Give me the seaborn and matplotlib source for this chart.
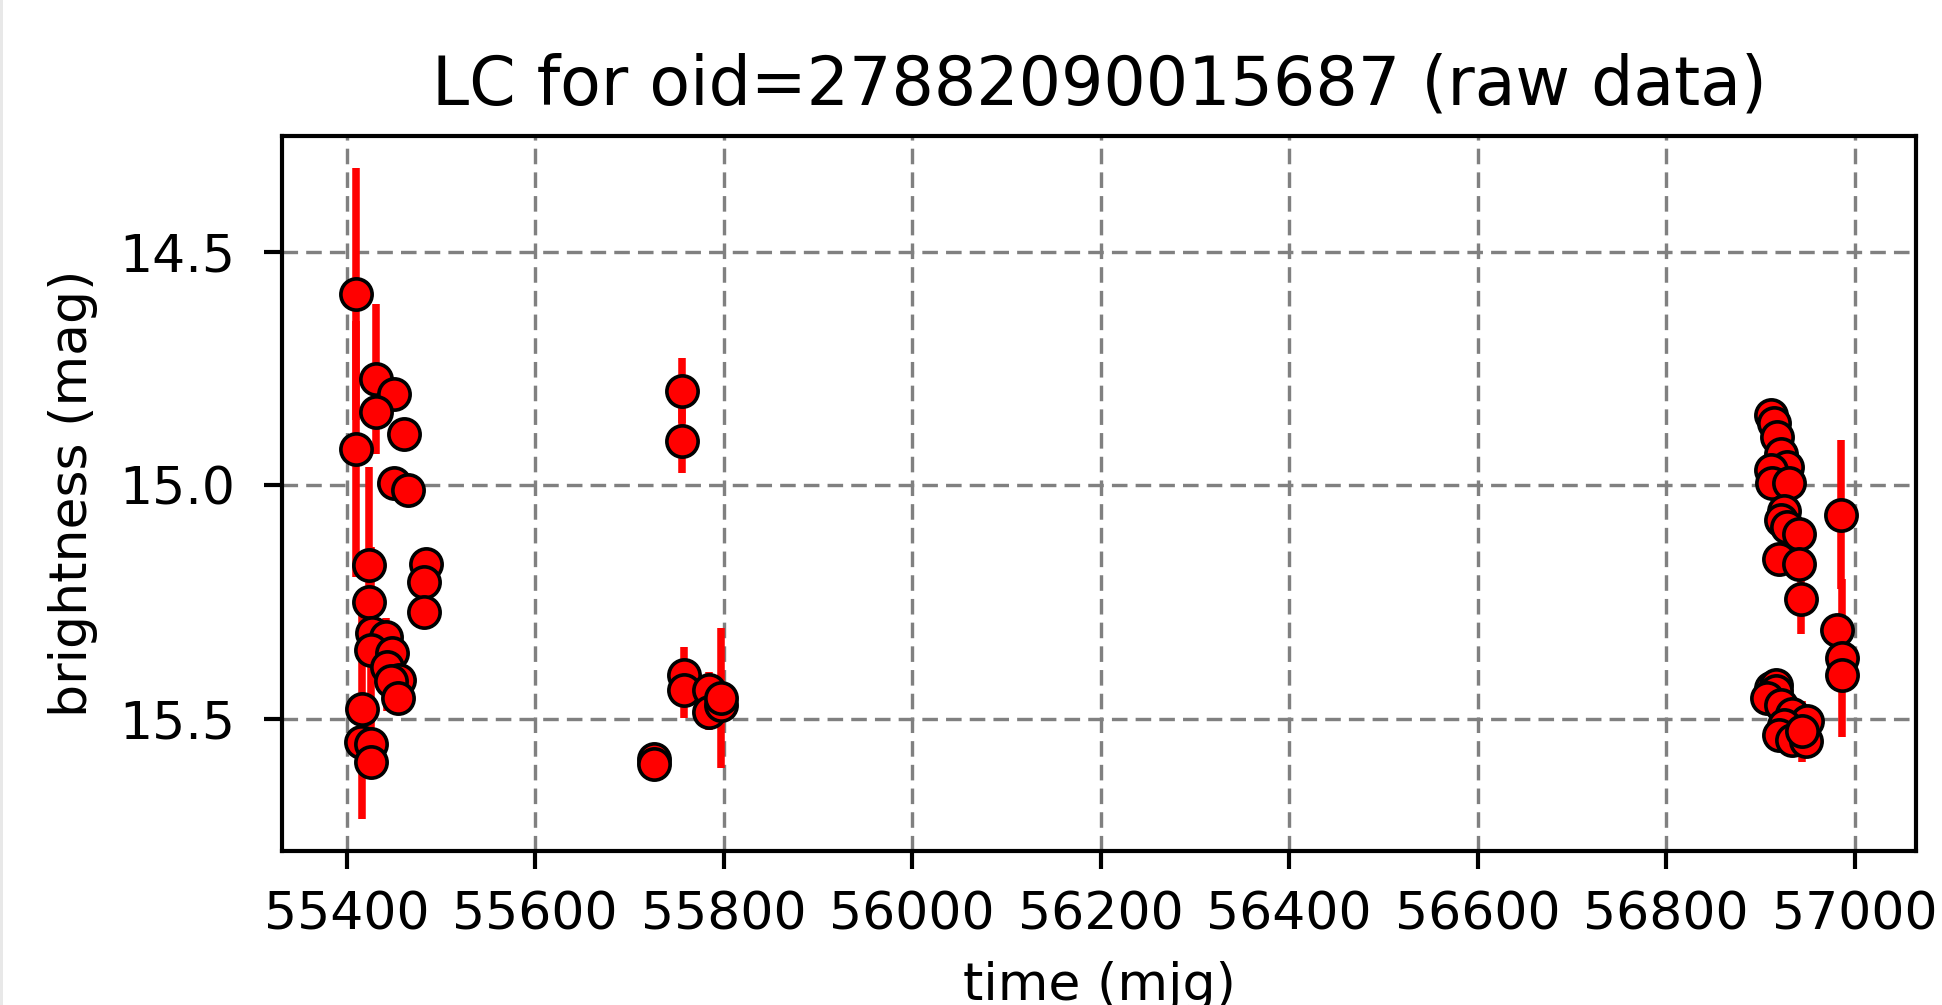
import numpy as np
import pandas as pd
import matplotlib
matplotlib.use("Agg")
import matplotlib.pyplot as plt
import seaborn as sns
from matplotlib.patches import Rectangle

title = "LC for oid=27882090015687 (raw data)"
xlabel = "time (mjg)"
ylabel = "brightness (mag)"

# observation times (MJD)
mjd = [
    55410.3, 55431.5, 55450.0, 55431.5, 55461.0, 55410.3, 55450.0, 55465.0,
    55424.0, 55484.0, 55482.0, 55482.0, 55424.0, 55427.0, 55442.0, 55425.5,
    55448.5, 55442.5, 55455.6, 55447.0, 55454.5, 55416.6, 55415.0, 55425.5,
    55425.5,
    55725.7, 55725.7, 55755.7, 55755.7, 55757.5, 55757.5, 55784.0, 55784.0,
    55797.5, 55797.5,
    56910.8, 56914.4, 56918.0, 56921.5, 56928.6, 56910.8, 56912.6, 56930.3,
    56925.0, 56921.5, 56928.6, 56940.9, 56919.6, 56940.9, 56942.7, 56985.1,
    56980.9, 56986.2, 56986.2,
    56910.8, 56916.0, 56916.0, 56907.0, 56921.5, 56933.9, 56949.8, 56925.0,
    56919.6, 56933.9, 56948.0, 56944.5,
]

# magnitudes
mag = [
    14.591, 14.772, 14.804, 14.843, 14.890, 14.922, 14.995, 15.011,
    15.170, 15.169, 15.207, 15.272, 15.249, 15.317, 15.324, 15.353,
    15.360, 15.389, 15.417, 15.420, 15.455, 15.479, 15.550, 15.555,
    15.593,
    15.586, 15.597, 14.797, 14.904, 15.406, 15.439, 15.439, 15.485,
    15.471, 15.456,
    14.849, 14.867, 14.896, 14.932, 14.961, 14.968, 14.996, 14.996,
    15.054, 15.075, 15.090, 15.104, 15.158, 15.168, 15.244, 15.063,
    15.309, 15.370, 15.407,
    15.434, 15.427, 15.441, 15.455, 15.470, 15.491, 15.505, 15.513,
    15.534, 15.545, 15.548, 15.527,
]

# magnitude errors
mag_err = [
    0.270, 0.160, 0.020, 0.020, 0.015, 0.275, 0.020, 0.015,
    0.210, 0.015, 0.015, 0.015, 0.030, 0.030, 0.040, 0.220,
    0.030, 0.095, 0.020, 0.020, 0.020, 0.235, 0.030, 0.030,
    0.030,
    0.010, 0.010, 0.070, 0.070, 0.060, 0.060, 0.040, 0.040,
    0.030, 0.150,
    0.010, 0.010, 0.010, 0.010, 0.010, 0.010, 0.010, 0.010,
    0.010, 0.010, 0.010, 0.010, 0.010, 0.010, 0.075, 0.160,
    0.020, 0.170, 0.020,
    0.010, 0.010, 0.010, 0.010, 0.010, 0.010, 0.010, 0.010,
    0.010, 0.010, 0.010, 0.065,
]

df = pd.DataFrame({"mjd": mjd, "mag": mag, "err": mag_err})

DPI = 375
fig = plt.figure(figsize=(1942 / DPI, 1005 / DPI), dpi=DPI)
ax = fig.add_axes([0.1452, 0.1532, 0.8414, 0.7115])

ax.errorbar(df["mjd"], df["mag"], yerr=df["err"], fmt="none",
            ecolor="red", elinewidth=1.45, capsize=0, zorder=2)
sns.scatterplot(data=df, x="mjd", y="mag", ax=ax, color="red",
                edgecolor="black", linewidth=0.7, s=36, zorder=3)

ax.invert_yaxis()
ax.set_axisbelow(True)
ax.grid(True, color="gray", linestyle=(0, (4.6, 2.4)), linewidth=0.65)
ax.set_yticks([14.5, 15.0, 15.5])
ax.set_xticks(np.arange(55400, 57001, 200))

ax.set_title(title, fontsize=12.8)
ax.set_xlabel(xlabel, fontsize=10)
ax.set_ylabel(ylabel, fontsize=10)
ax.tick_params(labelsize=10)
ax.tick_params(axis="y", pad=5.5)
ax.tick_params(axis="x", pad=4.0)

fig.add_artist(Rectangle((0, 0), 3 / 1942, 1, transform=fig.transFigure,
                         facecolor="#e8e8e8", edgecolor="none"))

fig.savefig("out.png", dpi=DPI)
